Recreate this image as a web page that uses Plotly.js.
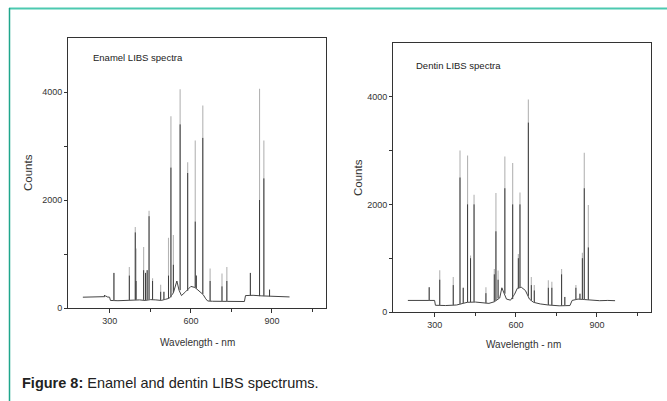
<!DOCTYPE html>
<html>
<head>
<meta charset="utf-8">
<script src="https://cdn.plot.ly/plotly-3.0.1.min.js"></script>
<style>
html,body{margin:0;padding:0;background:#fff;}
#chart{width:667px;height:401px;}
</style>
</head>
<body>
<div id="chart"></div>
<script>
// ---- Enamel spectrum ----
const enBaseX = [200, 230, 260, 280, 285, 290, 299, 302, 330, 360, 390, 410, 430, 450, 470, 490, 505, 520, 535, 548, 556, 565, 580, 600, 615, 630, 645, 655, 662, 680, 720, 760, 798, 802, 830, 860, 900, 930, 965];
const enBaseY = [200, 200, 205, 210, 225, 205, 200, 140, 135, 140, 150, 150, 140, 155, 150, 140, 160, 180, 280, 500, 330, 230, 300, 400, 380, 320, 250, 170, 130, 125, 120, 115, 120, 230, 235, 225, 215, 210, 205];
const enPeakX = [280, 315, 372, 394, 397, 425, 432, 438, 445, 458, 488, 500, 517, 526, 535, 560, 588, 616, 620, 644, 671, 715, 733, 820, 854, 870, 891];
const enPeakY = [240, 650, 760, 1500, 1100, 1130, 650, 700, 1800, 550, 430, 300, 1300, 3550, 1350, 4050, 2700, 3100, 600, 3750, 730, 640, 760, 650, 4060, 3100, 340];
const enPeakDark = [240, 650, 600, 1400, 500, 700, 650, 700, 1700, 500, 300, 300, 600, 2600, 800, 3400, 2500, 1600, 600, 3150, 500, 400, 500, 650, 2000, 2400, 340];
const enPeakBase = [210, 135, 140, 150, 150, 150, 145, 150, 155, 150, 140, 150, 175, 200, 280, 330, 320, 380, 360, 260, 128, 120, 118, 225, 220, 220, 212];

// ---- Dentin spectrum ----
const dnBaseX = [200, 240, 270, 290, 299, 302, 340, 380, 400, 420, 450, 470, 500, 520, 540, 548, 556, 565, 580, 595, 605, 620, 635, 645, 650, 665, 690, 720, 760, 800, 808, 830, 870, 910, 940, 967];
const dnBaseY = [215, 220, 225, 215, 215, 125, 120, 130, 150, 180, 185, 170, 160, 190, 260, 450, 350, 240, 220, 330, 440, 460, 400, 300, 240, 180, 150, 130, 115, 120, 215, 240, 225, 210, 215, 210];
const dnPeakX = [279, 318, 368, 393, 405, 421, 432, 445, 489, 520, 526, 534, 559, 588, 609, 615, 646, 657, 668, 720, 733, 769, 781, 822, 837, 846, 853, 868];
const dnPeakY = [460, 775, 650, 3000, 450, 2910, 1050, 2180, 460, 800, 2210, 770, 2890, 2770, 1080, 2220, 3950, 650, 500, 590, 560, 800, 280, 500, 340, 1100, 2960, 1990];
const dnPeakDark = [460, 600, 500, 2500, 450, 2000, 1000, 2000, 350, 700, 1500, 600, 2300, 2000, 1000, 2000, 3520, 500, 400, 450, 450, 700, 280, 450, 340, 1000, 2300, 1200];
const dnPeakBase = [220, 120, 125, 145, 160, 180, 185, 185, 165, 190, 210, 250, 340, 240, 440, 450, 300, 210, 180, 130, 125, 115, 115, 235, 235, 230, 230, 225];

// ---- Axis ticks / labels ----
const xTickVals = [300, 600, 900];
const yTickVals = [0, 2000, 4000];
const xRange = [145, 1100];
const yRange = [0, 5000];

function segs(px, base, top) {
  const x = [], y = [];
  for (let i = 0; i < px.length; i++) {
    x.push(px[i], px[i], null);
    y.push(base[i], top[i], null);
  }
  return {x, y};
}

function spectrumTraces(bx, by, px, py, pd, pb, xa, ya) {
  const light = segs(px, pb, py);
  const dark = segs(px, pb, pd);
  return [
    {x: bx, y: by, xaxis: xa, yaxis: ya, mode: 'lines', type: 'scatter',
     line: {color: '#444444', width: 1}, hoverinfo: 'skip', showlegend: false},
    {x: light.x, y: light.y, xaxis: xa, yaxis: ya, mode: 'lines', type: 'scatter',
     line: {color: '#b4b4b4', width: 1.1}, connectgaps: false, hoverinfo: 'skip', showlegend: false},
    {x: dark.x, y: dark.y, xaxis: xa, yaxis: ya, mode: 'lines', type: 'scatter',
     line: {color: '#3c3c3c', width: 1}, connectgaps: false, hoverinfo: 'skip', showlegend: false}
  ];
}

const data = [].concat(
  spectrumTraces(enBaseX, enBaseY, enPeakX, enPeakY, enPeakDark, enPeakBase, 'x', 'y'),
  spectrumTraces(dnBaseX, dnBaseY, dnPeakX, dnPeakY, dnPeakDark, dnPeakBase, 'x2', 'y2')
);

const W = 667, H = 401;
const tickFont = {family: 'Liberation Sans, Arial, sans-serif', size: 9, color: '#333'};
function xAxis(domain, anchor) {
  return {domain: domain, anchor: anchor, range: xRange, tickvals: xTickVals,
    ticktext: xTickVals.map(String), ticks: 'outside', ticklen: 4, tickwidth: 1, tickcolor: '#333',
    minor: {tickvals: [450, 750, 1050], ticks: 'outside', ticklen: 3, tickcolor: '#333'},
    showline: true, linecolor: '#333', linewidth: 1, mirror: true,
    showgrid: false, zeroline: false, tickfont: tickFont, fixedrange: true};
}
function yAxis(domain, anchor) {
  return {domain: domain, anchor: anchor, range: yRange, tickvals: yTickVals,
    ticktext: yTickVals.map(String), ticks: 'outside', ticklen: 3, tickwidth: 1, tickcolor: '#333',
    minor: {tickvals: [1000, 3000], ticks: 'outside', ticklen: 3, tickcolor: '#333'},
    showline: true, linecolor: '#333', linewidth: 1, mirror: true,
    showgrid: false, zeroline: false, tickfont: tickFont, fixedrange: true};
}

const px = v => v / W;
const py = v => (H - v) / H;
const lblFont = {family: 'Liberation Sans, Arial, sans-serif', size: 10, color: '#333'};

const layout = {
  width: W, height: H,
  margin: {l: 0, r: 0, t: 0, b: 0},
  paper_bgcolor: '#ffffff', plot_bgcolor: '#ffffff',
  showlegend: false,
  xaxis: xAxis([px(68), px(326)], 'y'),
  yaxis: yAxis([py(308), py(38)], 'x'),
  xaxis2: xAxis([px(393), px(651)], 'y2'),
  yaxis2: yAxis([py(312), py(43)], 'x2'),
  shapes: [
    {type: 'line', xref: 'paper', yref: 'paper', x0: px(9), x1: 1, y0: py(8.5), y1: py(8.5),
     line: {color: '#4cc9b0', width: 2}},
    {type: 'line', xref: 'paper', yref: 'paper', x0: px(9.5), x1: px(9.5), y0: 0, y1: py(8),
     line: {color: '#1fa68c', width: 1.5}}
  ],
  annotations: [
    {text: 'Enamel LIBS spectra', xref: 'paper', yref: 'paper', x: px(91), y: py(57),
     xanchor: 'left', yanchor: 'middle', showarrow: false, font: {family: 'Liberation Sans, Arial, sans-serif', size: 9.5, color: '#222'}},
    {text: 'Dentin LIBS spectra', xref: 'paper', yref: 'paper', x: px(414), y: py(65),
     xanchor: 'left', yanchor: 'middle', showarrow: false, font: {family: 'Liberation Sans, Arial, sans-serif', size: 9.5, color: '#222'}},
    {text: 'Counts', xref: 'paper', yref: 'paper', x: px(28), y: py(173), textangle: -90,
     xanchor: 'center', yanchor: 'middle', showarrow: false, font: {family: 'Liberation Sans, Arial, sans-serif', size: 11.5, color: '#333'}},
    {text: 'Counts', xref: 'paper', yref: 'paper', x: px(358), y: py(178), textangle: -90,
     xanchor: 'center', yanchor: 'middle', showarrow: false, font: {family: 'Liberation Sans, Arial, sans-serif', size: 11.5, color: '#333'}},
    {text: 'Wavelength - nm', xref: 'paper', yref: 'paper', x: px(197), y: py(342),
     xanchor: 'center', yanchor: 'middle', showarrow: false, font: lblFont},
    {text: 'Wavelength - nm', xref: 'paper', yref: 'paper', x: px(523), y: py(344),
     xanchor: 'center', yanchor: 'middle', showarrow: false, font: lblFont},
    {text: '<b>Figure 8:</b> Enamel and dentin LIBS spectrums.', xref: 'paper', yref: 'paper',
     x: px(20), y: py(383), xanchor: 'left', yanchor: 'middle', showarrow: false,
     font: {family: 'Liberation Sans, Arial, sans-serif', size: 14.5, color: '#222'}}
  ]
};

Plotly.newPlot('chart', data, layout, {staticPlot: true, displayModeBar: false});
</script>
</body>
</html>
